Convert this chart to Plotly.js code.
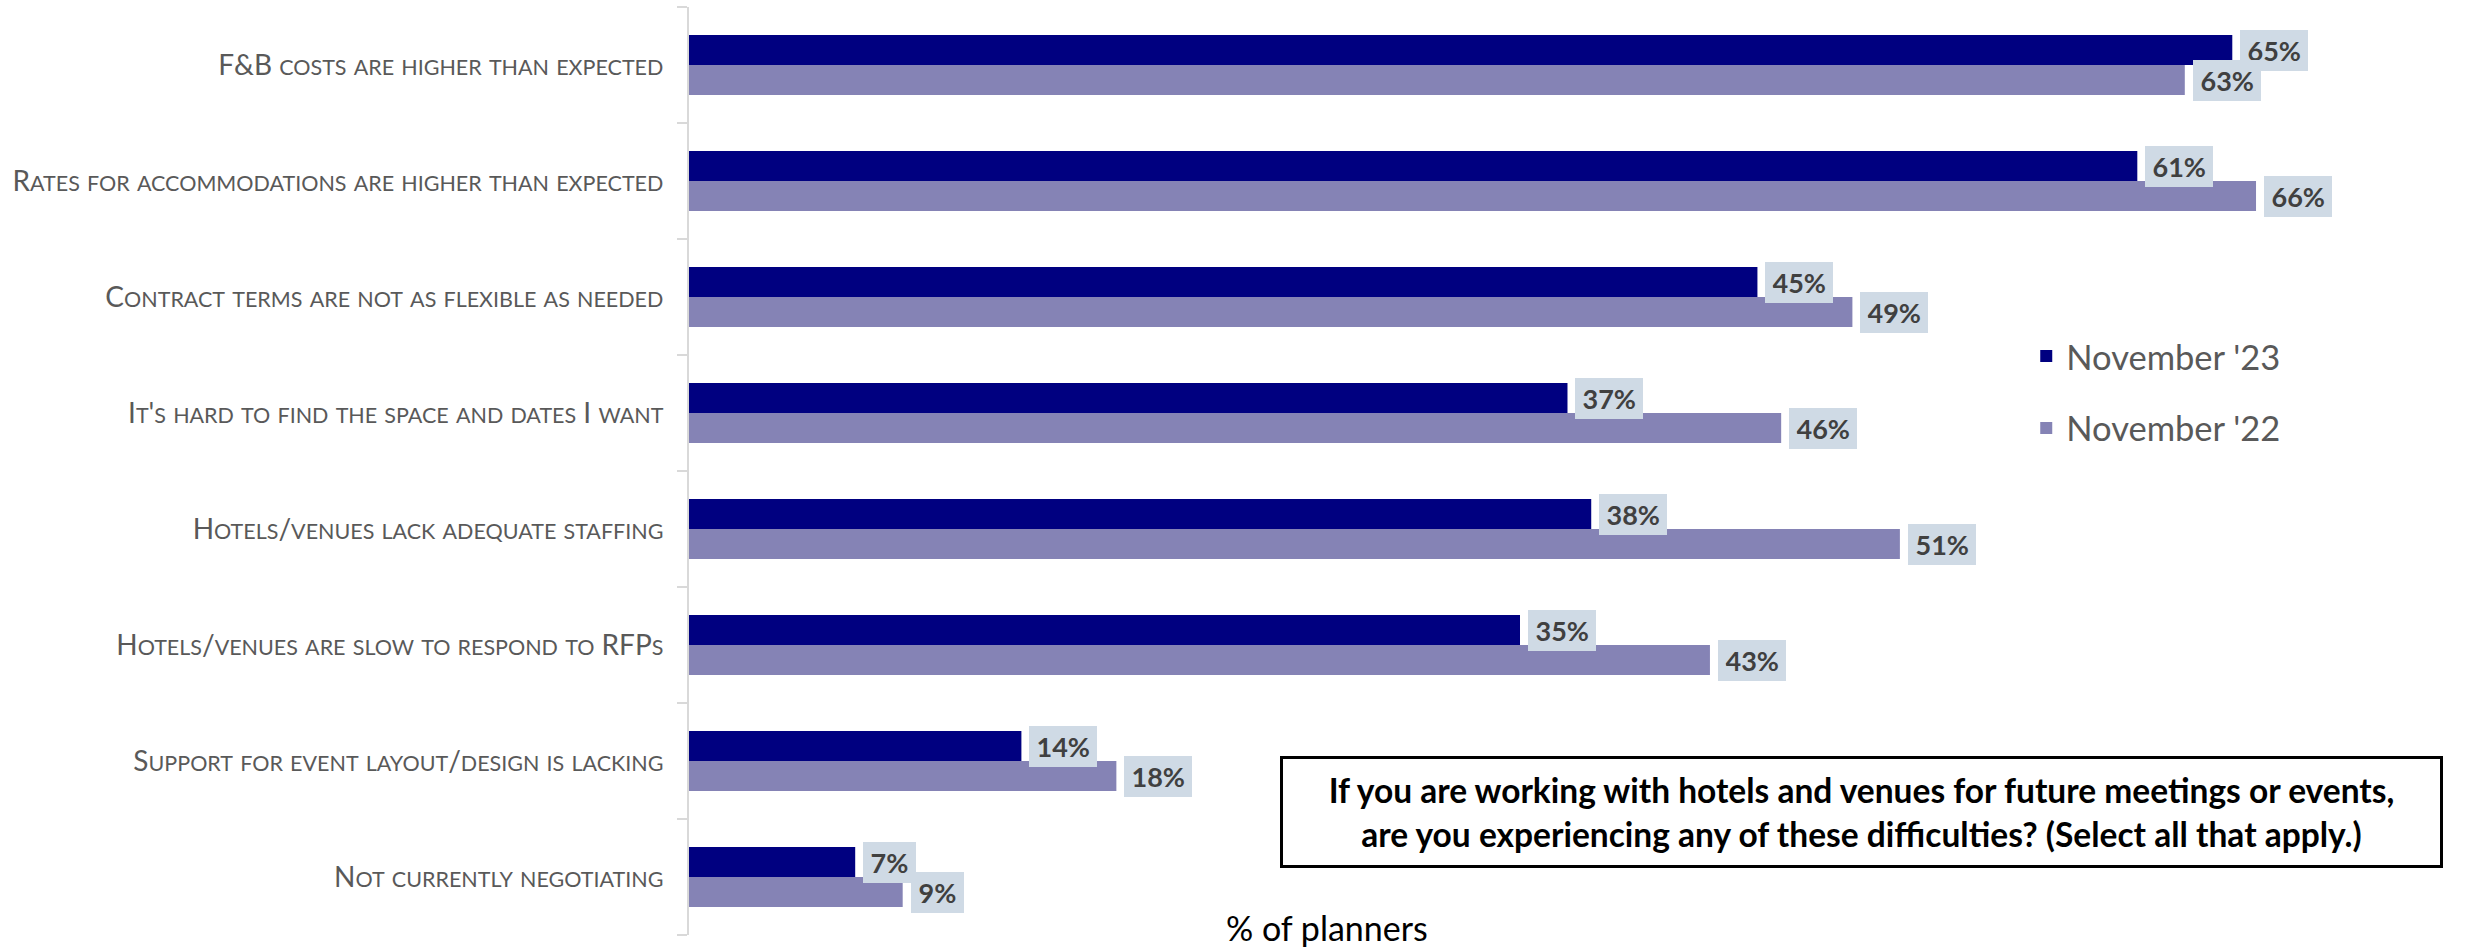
<!DOCTYPE html>
<html>
<head>
<meta charset="utf-8">
<script src="https://cdn.plot.ly/plotly-3.0.1.min.js"></script>
<style>html,body{margin:0;padding:0;background:#fff;}#chart{width:2466px;height:951px;}</style>
</head>
<body>
<div id="chart"></div>
<script>
// ---- data ----
const categories = [
  "F&B costs are higher than expected",
  "Rates for accommodations are higher than expected",
  "Contract terms are not as flexible as needed",
  "It's hard to find the space and dates I want",
  "Hotels/venues lack adequate staffing",
  "Hotels/venues are slow to respond to RFPs",
  "Support for event layout/design is lacking",
  "Not currently negotiating"
];
const seriesNames = ["November '23", "November '22"];
const nov23 = [65, 61, 45, 37, 38, 35, 14, 7];
const nov22 = [63, 66, 49, 46, 51, 43, 18, 9];
const questionText = "If you are working with hotels and venues for future meetings or events,<br>are you experiencing any of these difficulties? (Select all that apply.)";
const axisNote = "% of planners";

// ---- styling helpers ----
const FONT = "Lato, 'Open Sans', sans-serif";
const BIG = 28, SMALL = 21.5;
function smallCaps(s) {
  let out = "", cur = null, buf = "";
  const flush = () => {
    if (!buf) return;
    out += cur === "s" ? '<span style="font-size:' + SMALL + 'px">' + buf + '</span>' : buf;
    buf = "";
  };
  for (const ch of s) {
    const isLower = ch !== ch.toUpperCase();
    const kind = isLower ? "s" : "b";
    if (kind !== cur) { flush(); cur = kind; }
    buf += isLower ? ch.toUpperCase() : ch.replace("&", "&amp;");
  }
  flush();
  return out;
}
const tickText = categories.map(smallCaps);

const colors = ["#000080", "#8583B5"];
const traces = [nov23, nov22].map((vals, i) => ({
  type: "bar",
  orientation: "h",
  name: seriesNames[i],
  legendgroup: "g" + i,
  x: vals,
  y: categories,
  marker: { color: colors[i] },
  hoverinfo: "x+name"
}));

const annotations = [];
[nov23, nov22].forEach((vals, i) => {
  vals.forEach((v, j) => {
    annotations.push({
      x: v, y: categories[j], xref: "x", yref: "y",
      text: "<b>" + v + "%</b>",
      showarrow: false,
      xanchor: "left", yanchor: "middle",
      xshift: 8, yshift: i === 0 ? 15 : -15,
      bgcolor: "#CFDAE5", borderwidth: 0, borderpad: 7.5, height: 26,
      font: { family: FONT, size: 27, color: "#404040" }
    });
  });
});
annotations.push({
  xref: "paper", yref: "paper", x: 0.7053, y: 0.1325,
  xanchor: "center", yanchor: "middle",
  text: "<b>" + questionText + "</b>",
  showarrow: false,
  bordercolor: "#000000", borderwidth: 3, borderpad: 0,
  bgcolor: "#ffffff", width: 1157, height: 106,
  align: "center",
  font: { family: FONT, size: 33.5, color: "#000000" }
});
annotations.push({
  xref: "paper", yref: "paper", x: 0.3838, y: 0.0086,
  xanchor: "center", yanchor: "middle",
  text: axisNote, showarrow: false,
  font: { family: FONT, size: 34, color: "#000000" }
});

const layout = {
  width: 2466, height: 951,
  margin: { l: 689, r: 115, t: 7, b: 16 },
  paper_bgcolor: "#ffffff", plot_bgcolor: "#ffffff",
  barmode: "group", bargap: 0.483, bargroupgap: 0,
  showlegend: true,
  legend: {
    x: 0.8046, y: 0.585, xanchor: "left", yanchor: "middle",
    traceorder: "grouped", tracegroupgap: 24,
    font: { family: FONT, size: 34.5, color: "#595959" },
    bgcolor: "rgba(0,0,0,0)"
  },
  xaxis: {
    range: [0, 70], visible: false, showgrid: false, zeroline: false, fixedrange: true
  },
  yaxis: {
    type: "category", autorange: "reversed",
    showline: true, linecolor: "#D9D9D9", linewidth: 2,
    ticks: "outside", tickson: "boundaries", ticklen: 10, tickcolor: "#D9D9D9", tickwidth: 2,
    showgrid: false, zeroline: false,
    tickmode: "array", tickvals: categories, ticktext: tickText,
    ticklabelstandoff: 18,
    tickfont: { family: FONT, size: BIG, color: "#595959" }
  },
  annotations: annotations,
  font: { family: FONT }
};

Plotly.newPlot("chart", traces, layout, { displayModeBar: false, staticPlot: true });
</script>
</body>
</html>
